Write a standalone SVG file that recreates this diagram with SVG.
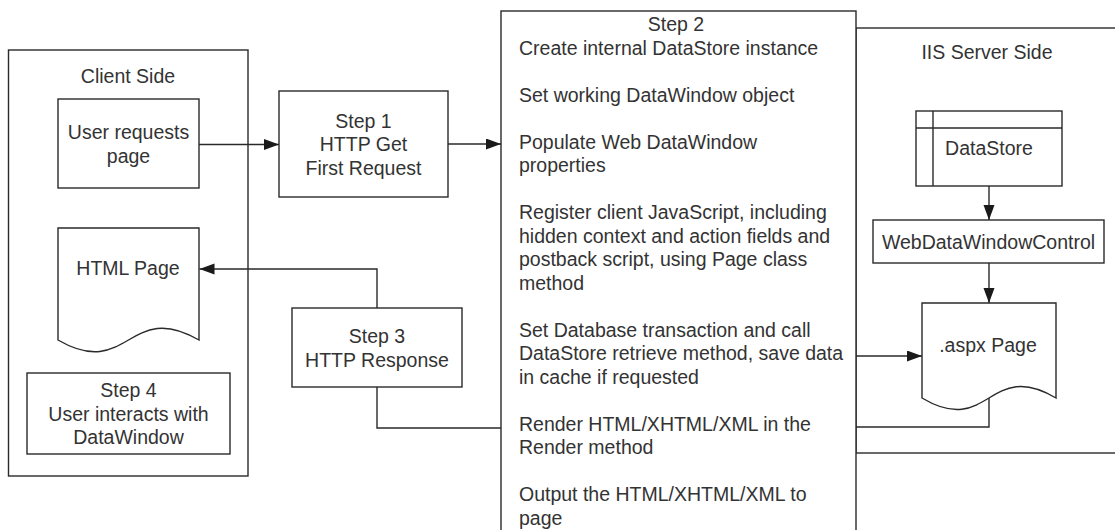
<svg xmlns="http://www.w3.org/2000/svg" width="1115" height="530" viewBox="0 0 1115 530">
<style>
.b{fill:#fff;stroke:#2a2a2a;stroke-width:1.4}
.c{fill:none;stroke:#2a2a2a;stroke-width:1.4}
text{font-family:"Liberation Sans",Arial,sans-serif;font-size:19.5px;fill:#333}
.m{text-anchor:middle}
</style>
<defs>
<marker id="ah" markerUnits="userSpaceOnUse" markerWidth="16" markerHeight="12" refX="15" refY="5.5" orient="auto">
<path d="M0,0 L15,5.5 L0,11 Z" fill="#1a1a1a"/>
</marker>
</defs>
<rect width="1115" height="530" fill="#fff"/>
<g id="client-side">
<rect class="b" x="8.5" y="50" width="239.5" height="426"/>
<text class="m" x="128" y="83">Client Side</text>
</g>
<g id="iis-server-side">
<rect class="b" x="856" y="28" width="280" height="425"/>
<text class="m" x="987" y="59">IIS Server Side</text>
</g>
<g id="step2">
<rect class="b" x="501" y="11" width="355" height="540"/>
<text class="m" x="676" y="31">Step 2</text>
<text x="519" y="54.5">Create internal DataStore instance</text>
<text x="519" y="101.5">Set working DataWindow object</text>
<text x="519" y="148.5">Populate Web DataWindow</text>
<text x="519" y="172">properties</text>
<text x="519" y="219">Register client JavaScript, including</text>
<text x="519" y="242.5">hidden context and action fields and</text>
<text x="519" y="266">postback script, using Page class</text>
<text x="519" y="289.5">method</text>
<text x="519" y="336.5">Set Database transaction and call</text>
<text x="519" y="360">DataStore retrieve method, save data</text>
<text x="519" y="383.5">in cache if requested</text>
<text x="519" y="430.5">Render HTML/XHTML/XML in the</text>
<text x="519" y="454">Render method</text>
<text x="519" y="501">Output the HTML/XHTML/XML to</text>
<text x="519" y="524.5">page</text>
</g>
<g id="user-requests">
<rect class="b" x="58" y="99" width="141" height="89"/>
<text class="m" x="128.5" y="139">User requests</text>
<text class="m" x="128.5" y="162.5">page</text>
</g>
<g id="html-page">
<path class="b" d="M58,228 H199 V340 C128.5,299 128.5,381 58,340 Z"/>
<text class="m" x="128" y="275">HTML Page</text>
</g>
<g id="step4">
<rect class="b" x="27" y="373" width="203" height="81"/>
<text class="m" x="128.5" y="397">Step 4</text>
<text class="m" x="128.5" y="420.5">User interacts with</text>
<text class="m" x="128.5" y="444">DataWindow</text>
</g>
<g id="step1">
<rect class="b" x="279" y="91" width="169" height="106"/>
<text class="m" x="363.5" y="127.5">Step 1</text>
<text class="m" x="363.5" y="151">HTTP Get</text>
<text class="m" x="363.5" y="174.5">First Request</text>
</g>
<g id="step3">
<rect class="b" x="292" y="308" width="170" height="79"/>
<text class="m" x="377" y="343">Step 3</text>
<text class="m" x="377" y="366.5">HTTP Response</text>
</g>
<g id="datastore">
<rect class="b" x="916" y="111" width="146" height="75"/>
<line class="c" x1="933" y1="111" x2="933" y2="186"/>
<line class="c" x1="916" y1="128" x2="1062" y2="128"/>
<text class="m" x="989" y="155">DataStore</text>
</g>
<g id="webdatawindowcontrol">
<rect class="b" x="873" y="220" width="231" height="43"/>
<text class="m" x="988.5" y="249">WebDataWindowControl</text>
</g>
<g id="aspx-page">
<path class="b" d="M922,303 H1056 V398 C989,358 989,438 922,398 Z"/>
<text class="m" x="988" y="352">.aspx Page</text>
</g>
<g id="connectors">
<line class="c" x1="199" y1="144.5" x2="279" y2="144.5" marker-end="url(#ah)"/>
<line class="c" x1="448" y1="144" x2="501" y2="144" marker-end="url(#ah)"/>
<path class="c" d="M377,308 V269 H199.5" marker-end="url(#ah)"/>
<path class="c" d="M377,387 V428 H501"/>
<line class="c" x1="856" y1="356" x2="922" y2="356" marker-end="url(#ah)"/>
<path class="c" d="M989,398 V427 H856"/>
<line class="c" x1="989" y1="186" x2="989" y2="220" marker-end="url(#ah)"/>
<line class="c" x1="989" y1="263" x2="989" y2="303" marker-end="url(#ah)"/>
</g>
</svg>
